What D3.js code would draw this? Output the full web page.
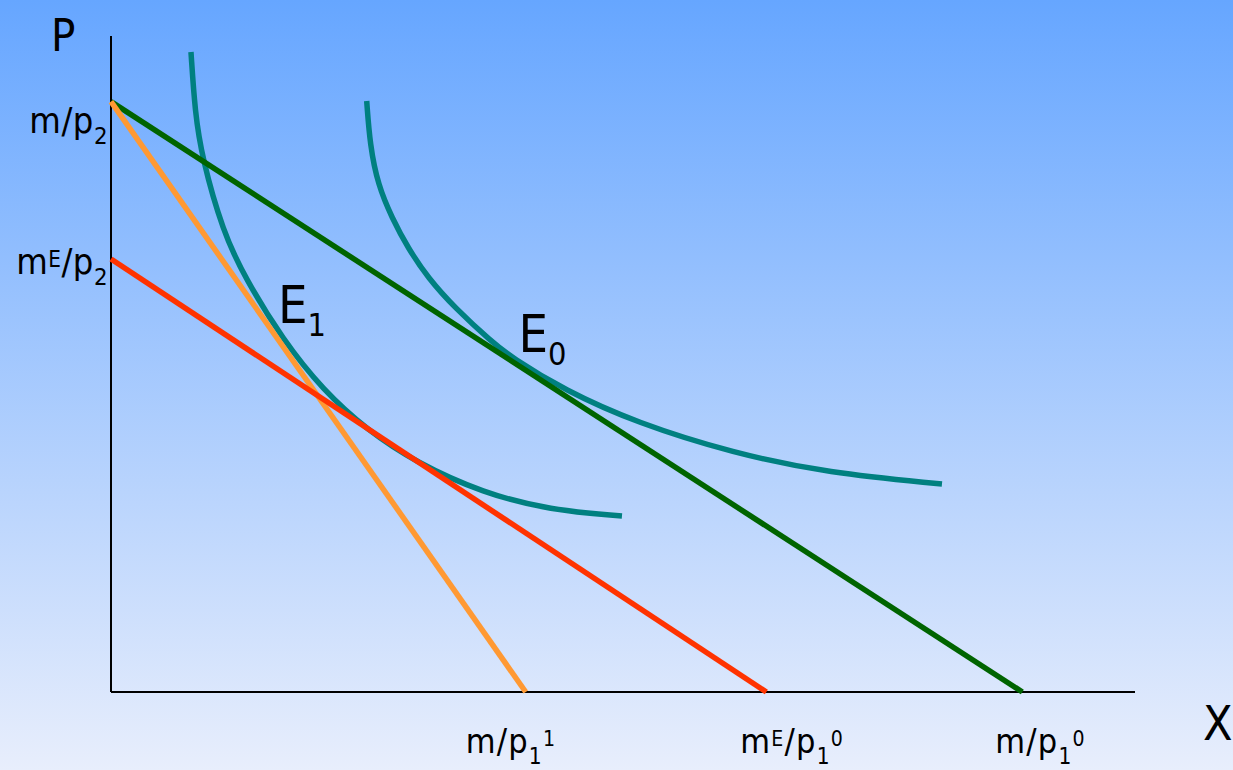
<!DOCTYPE html>
<html><head><meta charset="utf-8">
<script src="https://cdn.jsdelivr.net/npm/d3@7"></script>
<style>html,body{margin:0;padding:0;overflow:hidden}svg{display:block}text{font-family:"DejaVu Sans Condensed","DejaVu Sans",sans-serif;fill:#000}</style>
</head><body>
<script>
// ---- data (abstract units) ----
const yIntercepts = [9.0, 6.6];               // m/p2, mE/p2
const xIntercepts = [4.05, 6.4, 8.9];         // m/p1^1, mE/p1^0, m/p1^0
const budgetY0 = [9.0, 9.0, 6.6];
const budgetX0 = [8.9, 4.05, 6.4];
const budgetColors = ["#006400", "#ff9933", "#ff3300"];
const indiffU1x = [0.781,0.820,0.889,1.094,1.309,1.680,2.070,2.500,2.988,3.633,4.287,4.990];
const indiffU1y = [9.756,8.841,8.140,7.012,6.311,5.366,4.604,3.994,3.491,3.034,2.774,2.683];
const indiffU0x = [2.497,2.529,2.607,2.744,2.900,3.096,3.359,3.721,3.906,4.424,5.137,6.074,7.002,8.115];
const indiffU0y = [9.009,8.338,7.729,7.226,6.768,6.311,5.854,5.335,5.107,4.604,4.101,3.643,3.338,3.171];
const yTickLabels = [[["m",""],["/p",""],["2","sub"]], [["m",""],["E","sup"],["/p",""],["2","sub"]]];
const xTickLabels = [[["m/p",""],["1","sub"],["1","sup"]], [["m",""],["E","sup"],["/p",""],["1","sub"],["0","sup"]], [["m/p",""],["1","sub"],["0","sup"]]];
const eqX = [1.63, 3.98];
const eqY = [5.63, 5.18];
const eqLabels = [[["E",""],["1","sub"]], [["E",""],["0","sub"]]];

// ---- layout ----
const yLabelDy = [31, 15];
const xLabelDx = [-60, -26, -27];

const W=1233,H=770;
const svg=d3.select("body").append("svg").attr("width",W).attr("height",H);
const defs=svg.append("defs");
const g=defs.append("linearGradient").attr("id","bg").attr("x1",0).attr("y1",0).attr("x2",0).attr("y2",1);
g.append("stop").attr("offset","0%").attr("stop-color","#66a6ff");
g.append("stop").attr("offset","100%").attr("stop-color","#e8eefc");
svg.append("rect").attr("width",W).attr("height",H).attr("fill","url(#bg)");

const x=d3.scaleLinear().domain([0,10]).range([111,1135]);
const y=d3.scaleLinear().domain([0,10]).range([692,36]);

// axes
svg.append("line").attr("x1",x(0)).attr("x2",x(0)).attr("y1",y(10)).attr("y2",y(0)).attr("stroke","#000").attr("stroke-width",2);
svg.append("line").attr("x1",x(0)).attr("x2",x(10)).attr("y1",y(0)).attr("y2",y(0)).attr("stroke","#000").attr("stroke-width",2);

// indifference curves
const crv=d3.line().x(d=>x(d[0])).y(d=>y(d[1])).curve(d3.curveBasis);
[[indiffU1x,indiffU1y],[indiffU0x,indiffU0y]].forEach(([xs,ys])=>{
  svg.append("path").attr("d",crv(xs.map((v,i)=>[v,ys[i]]))).attr("fill","none").attr("stroke","#008080").attr("stroke-width",5.5);
});
// budget lines
budgetY0.forEach((y0,i)=>{
  svg.append("line").attr("x1",x(0)).attr("y1",y(y0)).attr("x2",x(budgetX0[i])).attr("y2",y(0))
    .attr("stroke",budgetColors[i]).attr("stroke-width",5.5);
});

function rich(sel, parts, size, o){
  let cum=0;
  parts.forEach(([t,k])=>{
    const ts=sel.append("tspan").text(t);
    let want=0, fs=size;
    if(k==="sub"){fs=size*o.subSize; want=size*o.subShift;}
    else if(k==="sup"){fs=size*(t==="E"?o.supESize:o.supSize); want=-size*(t==="E"?o.supEShift:o.supShift);}
    ts.attr("font-size",fs).attr("dy",want-cum); cum=want;
  });
}
const tickOpts={subSize:0.66,subShift:0.31,supSize:0.62,supShift:0.2,supESize:0.62,supEShift:0.2};
yTickLabels.forEach((p,i)=>{
  const t=svg.append("text").attr("x",x(0)-3).attr("y",y(yIntercepts[i])+yLabelDy[i]).attr("text-anchor","end").attr("letter-spacing",0.5);
  rich(t,p,36,tickOpts);
});
xTickLabels.forEach((p,i)=>{
  const t=svg.append("text").attr("x",x(xIntercepts[i])+xLabelDx[i]).attr("y",y(0)+61).attr("text-anchor","start").attr("letter-spacing",1.2);
  rich(t,p,34,tickOpts);
});
eqLabels.forEach((p,i)=>{
  const t=svg.append("text").attr("x",x(eqX[i])).attr("y",y(eqY[i]));
  rich(t,p,52,{subSize:0.62,subShift:0.25,supSize:0.6,supShift:0.3,supESize:0.6,supEShift:0.3});
});
svg.append("text").attr("x",51).attr("y",51).attr("font-size",45).text("P");
svg.append("text").attr("x",1203).attr("y",740).attr("font-size",48).text("X");
</script>
</body></html>
